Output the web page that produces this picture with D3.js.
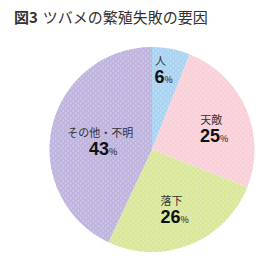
<!DOCTYPE html>
<html>
<head>
<meta charset="utf-8">
<script src="https://cdn.jsdelivr.net/npm/d3@7"></script>
<style>
  body { margin: 0; background: #fff; }
  svg { display: block; font-family: "Noto Sans CJK JP", "Noto Sans", sans-serif; }
</style>
</head>
<body>
<div id="chart"></div>
<script>
const categories = ["人", "天敵", "落下", "その他・不明"];
const values = [6, 25, 26, 43];
const colors = ["#a9d3f1", "#f9cfd8", "#dae79b", "#bfb4de"];
// label placement: radius fraction and angle shift (deg) from the slice middle
const labelRadius = [0.83, 0.63, 0.57, 0.52];
const labelShift = [-5, 0, 2, 1];

const width = 265, height = 275;
const cx = 152, cy = 149.5, radius = 102.5;

const svg = d3.select("#chart")
  .append("svg")
  .attr("width", width)
  .attr("height", height);

// dotted pattern for each slice
const defs = svg.append("defs");
colors.forEach((c, i) => {
  const p = defs.append("pattern")
    .attr("id", "dots" + i)
    .attr("patternUnits", "userSpaceOnUse")
    .attr("width", 5)
    .attr("height", 5);
  p.append("rect").attr("width", 5).attr("height", 5).attr("fill", c);
  p.append("circle").attr("cx", 1.25).attr("cy", 1.25).attr("r", 0.8).attr("fill", "#fff").attr("opacity", 0.45);
  p.append("circle").attr("cx", 3.75).attr("cy", 3.75).attr("r", 0.8).attr("fill", "#fff").attr("opacity", 0.45);
});

// title
const title = svg.append("text")
  .attr("x", 14)
  .attr("y", 23)
  .attr("font-size", 15)
  .attr("fill", "#333");
title.append("tspan").attr("font-weight", "bold").text("図3");
title.append("tspan").attr("dx", 5).text("ツバメの繁殖失敗の要因");

const pie = d3.pie().sort(null).value(d => d);
const arcs = pie(values);
const arc = d3.arc().innerRadius(0).outerRadius(radius);

const g = svg.append("g").attr("transform", `translate(${cx},${cy})`);

g.selectAll("path")
  .data(arcs)
  .enter()
  .append("path")
  .attr("d", arc)
  .attr("fill", (d, i) => `url(#dots${i})`);

// labels
arcs.forEach((d, i) => {
  const a = (d.startAngle + d.endAngle) / 2 + labelShift[i] * Math.PI / 180;
  const r = radius * labelRadius[i];
  const x = Math.sin(a) * r;
  const y = -Math.cos(a) * r;
  const lg = g.append("g").attr("transform", `translate(${x},${y})`);
  lg.append("text")
    .attr("text-anchor", "middle")
    .attr("font-size", 11)
    .attr("fill", "#333")
    .text(categories[i]);
  const t = lg.append("text")
    .attr("text-anchor", "middle")
    .attr("x", 3)
    .attr("y", 18)
    .attr("fill", "#111");
  t.append("tspan")
    .attr("font-size", 18)
    .attr("font-weight", "bold")
    .attr("font-family", "'Liberation Sans', Arial, sans-serif")
    .text(values[i]);
  t.append("tspan")
    .attr("font-size", 9)
    .text("%");
});
</script>
</body>
</html>
